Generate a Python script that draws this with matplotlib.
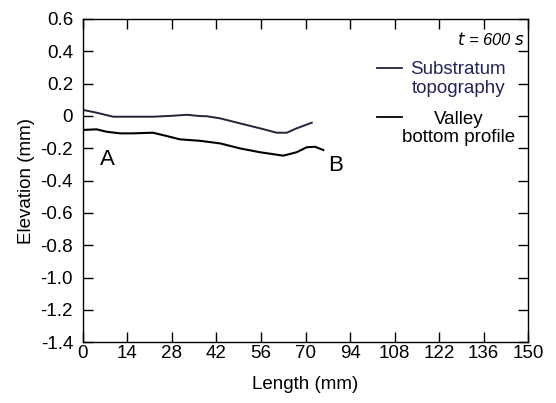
from matplotlib import pyplot as plt
import numpy as np

plt.rcParams['font.family'] = ['Liberation Sans', 'DejaVu Sans']

# substratum topography (upper curve)
sub_x = [0.1, 4.6, 10.2, 15.8, 23.6, 30.3, 35.1, 39.4, 41.7, 46.2, 52.9, 59.7, 65.3, 68.7, 72.0, 77.1]
sub_y = [0.037, 0.020, -0.005, -0.005, -0.005, 0.001, 0.007, -0.001, -0.002, -0.015, -0.046, -0.077, -0.104, -0.104, -0.077, -0.042]

# valley bottom profile (lower curve)
val_x = [0.1, 4.6, 8.0, 12.5, 16.9, 23.6, 28.1, 32.7, 39.4, 46.2, 52.9, 59.7, 67.5, 72.0, 75.4, 78.2, 81.0]
val_y = [-0.087, -0.083, -0.098, -0.108, -0.108, -0.104, -0.124, -0.145, -0.154, -0.170, -0.201, -0.225, -0.246, -0.225, -0.194, -0.191, -0.211]

xtick_labels = ['0', '14', '28', '42', '56', '70', '94', '108', '122', '136', '150']
ytick_vals = [0.6, 0.4, 0.2, 0, -0.2, -0.4, -0.6, -0.8, -1.0, -1.2, -1.4]
ytick_labels = ['0.6', '0.4', '0.2', '0', '-0.2', '-0.4', '-0.6', '-0.8', '-1.0', '-1.2', '-1.4']

fig = plt.figure(figsize=(5.56, 4.03), dpi=100)
ax = fig.add_axes([0.149, 0.151, 0.801, 0.802])

ax.plot(sub_x, sub_y, color='#22223a', lw=1.4)
ax.plot(val_x, val_y, color='black', lw=1.5)

ax.set_xlim(0, 150)
ax.set_ylim(-1.4, 0.6)
ax.set_xticks(np.linspace(0, 150, len(xtick_labels)))
ax.set_xticklabels(xtick_labels)
ax.set_yticks(ytick_vals)
ax.set_yticklabels(ytick_labels)
ax.tick_params(direction='in', length=7, width=1, top=True, right=True, labelsize=13.5)
ax.tick_params(axis='y', pad=7)
ax.tick_params(axis='x', pad=2)
for s in ax.spines.values():
    s.set_linewidth(1)

ax.set_xlabel('Length (mm)', fontsize=13.5, labelpad=10)
ax.set_ylabel('Elevation (mm)', fontsize=13.5, labelpad=4)

ax.text(8.4, -0.27, 'A', fontsize=16, ha='center', va='center')
ax.text(85, -0.31, 'B', fontsize=16, ha='center', va='center')

ax.text(0.993, 0.935, '$t$ = 600 $s$', transform=ax.transAxes, ha='right', va='center',
        fontsize=12, style='italic')

# legend keys, first line of each label next to its key
ax.plot([0.661, 0.717], [0.848, 0.848], transform=ax.transAxes, color='#22223a', lw=1.3)
ax.plot([0.661, 0.717], [0.697, 0.697], transform=ax.transAxes, color='black', lw=1.3)
ax.text(0.843, 0.814, 'Substratum\ntopography', transform=ax.transAxes, ha='center', va='center',
        multialignment='center', fontsize=13.5, linespacing=1.1, color='#25255a')
ax.text(0.843, 0.661, 'Valley\nbottom profile', transform=ax.transAxes, ha='center', va='center',
        multialignment='center', fontsize=13.5, linespacing=1.1, color='black')

plt.savefig('out.png', dpi=100)
